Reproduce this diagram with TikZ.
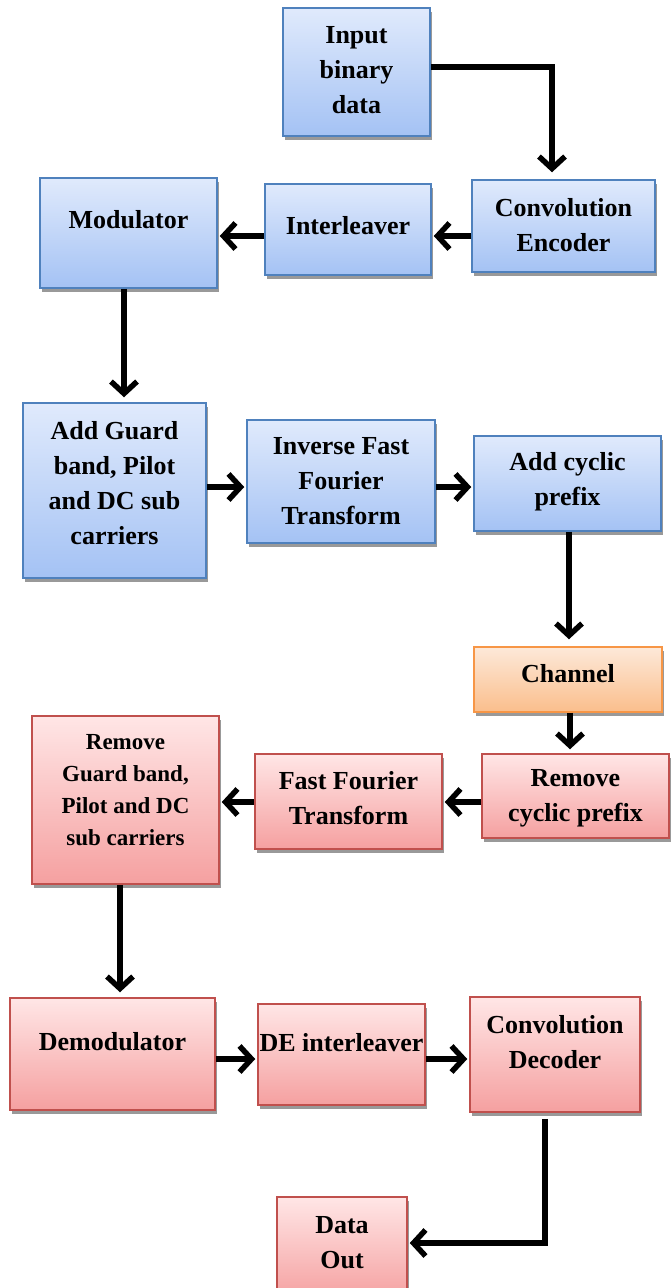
\documentclass[tikz,border=0pt]{standalone}
\usepackage{fontspec}
\setmainfont{Liberation Serif}
\usetikzlibrary{arrows.meta}
\usetikzlibrary{shadows}

\definecolor{blueTop}{RGB}{224,234,252}
\definecolor{blueBot}{RGB}{164,194,244}
\definecolor{blueLine}{RGB}{79,129,189}
\definecolor{redTop}{RGB}{255,230,230}
\definecolor{redBot}{RGB}{245,160,160}
\definecolor{redLine}{RGB}{192,80,77}
\definecolor{orTop}{RGB}{253,233,217}
\definecolor{orBot}{RGB}{250,190,140}
\definecolor{orLine}{RGB}{247,150,70}

\begin{document}
\begin{tikzpicture}[x=1pt,y=-1pt,
  box/.style={rectangle, draw, line width=1.5pt, inner sep=0pt,
    drop shadow={shadow xshift=2pt,shadow yshift=-4pt,fill=black!40,opacity=1}},
  bluebox/.style={box, draw=blueLine, top color=blueTop, bottom color=blueBot},
  redbox/.style={box, draw=redLine, top color=redTop, bottom color=redBot},
  orbox/.style={box, draw=orLine, top color=orTop, bottom color=orBot},
  txt/.style={font=\fontsize{26}{35}\selectfont\bfseries, align=center, inner sep=0pt},
  txtsmall/.style={txt, font=\fontsize{23}{32}\selectfont\bfseries},
  arr/.style={line width=5.5pt, shorten >=2pt, -{Straight Barb[length=12pt,width=26pt]}}]

\useasboundingbox (0,0) rectangle (672,1288);

% transmitter
\node[bluebox, minimum width=147pt, minimum height=128pt] (inp) at (356.5,72) {};
\node[bluebox, minimum width=183pt, minimum height=92pt] (enc) at (563.5,226) {};
\node[bluebox, minimum width=166pt, minimum height=91pt] (ilv) at (348,229.5) {};
\node[bluebox, minimum width=177pt, minimum height=110pt] (mod) at (128.5,233) {};
\node[bluebox, minimum width=183pt, minimum height=175pt] (agb) at (114.5,490.5) {};
\node[bluebox, minimum width=188pt, minimum height=123pt] (ifft) at (341,481.5) {};
\node[bluebox, minimum width=187pt, minimum height=95pt] (acp) at (567.5,483.5) {};

% channel
\node[orbox, minimum width=188pt, minimum height=65pt] (chn) at (568,679.5) {};

% receiver
\node[redbox, minimum width=187pt, minimum height=84pt] (rcp) at (575.5,796) {};
\node[redbox, minimum width=187pt, minimum height=95pt] (fft) at (348.5,801.5) {};
\node[redbox, minimum width=187pt, minimum height=168pt] (rgb) at (125.5,800) {};
\node[redbox, minimum width=205pt, minimum height=112pt] (dem) at (112.5,1054) {};
\node[redbox, minimum width=167pt, minimum height=101pt] (dil) at (341.5,1054.5) {};
\node[redbox, minimum width=170pt, minimum height=115pt] (dec) at (555,1054.5) {};
\node[redbox, minimum width=130pt, minimum height=103pt] (out) at (342,1248.5) {};

% labels
\node[txt] at ([yshift=2pt]inp.center) {Input\\binary\\data};
\node[txt] at ([yshift=1pt]enc.center) {Convolution\\Encoder};
\node[txt] at ([yshift=4pt]ilv.center) {Interleaver};
\node[txt] at ([yshift=13pt]mod.center) {Modulator};
\node[txt] at ([yshift=7pt]agb.center) {Add Guard\\band, Pilot\\and DC sub\\carriers};
\node[txt] at (ifft.center) {Inverse Fast\\Fourier\\Transform};
\node[txt] at ([yshift=2pt]acp.center) {Add cyclic\\prefix};
\node[txt] at ([yshift=6pt]chn.center) {Channel};
\node[txt] at ([yshift=-2pt]rcp.center) {Remove\\cyclic prefix};
\node[txt] at ([yshift=3pt]fft.center) {Fast Fourier\\Transform};
\node[txtsmall] at ([yshift=10pt]rgb.center) {Remove\\Guard band,\\Pilot and DC\\sub carriers};
\node[txt] at ([yshift=12pt]dem.center) {Demodulator};
\node[txt] at ([yshift=12pt]dil.center) {DE interleaver};
\node[txt] at ([yshift=12pt]dec.center) {Convolution\\Decoder};
\node[txt] at ([yshift=6pt]out.center) {Data\\Out};

% connectors
\draw[arr, shorten >=7pt] (inp.east |- 0,67) -| ([xshift=-11.5pt]enc.north);
\draw[arr] (enc.west |- 0,236) -- (ilv.east |- 0,236);
\draw[arr] (ilv.west |- 0,236) -- (mod.east |- 0,236);
\draw[arr, shorten >=5pt] (mod.south -| 124,0) -- (agb.north -| 124,0);
\draw[arr] (agb.east |- 0,487) -- (ifft.west |- 0,487);
\draw[arr] (ifft.east |- 0,487) -- (acp.west |- 0,487);
\draw[arr, shorten >=7pt] (acp.south -| 569,0) -- (chn.north -| 569,0);
\draw[arr, shorten >=4pt] (chn.south -| 570,0) -- (rcp.north -| 570,0);
\draw[arr] (rcp.west |- 0,802) -- (fft.east |- 0,802);
\draw[arr] (fft.west |- 0,802) -- (rgb.east |- 0,802);
\draw[arr, shorten >=5pt] (rgb.south -| 120,0) -- (dem.north -| 120,0);
\draw[arr] (dem.east |- 0,1059) -- (dil.west |- 0,1059);
\draw[arr] (dil.east |- 0,1059) -- (dec.west |- 0,1059);
\draw[arr] ([yshift=-6pt]dec.south -| 545,0) |- (out.east |- 0,1243);
\end{tikzpicture}
\end{document}
